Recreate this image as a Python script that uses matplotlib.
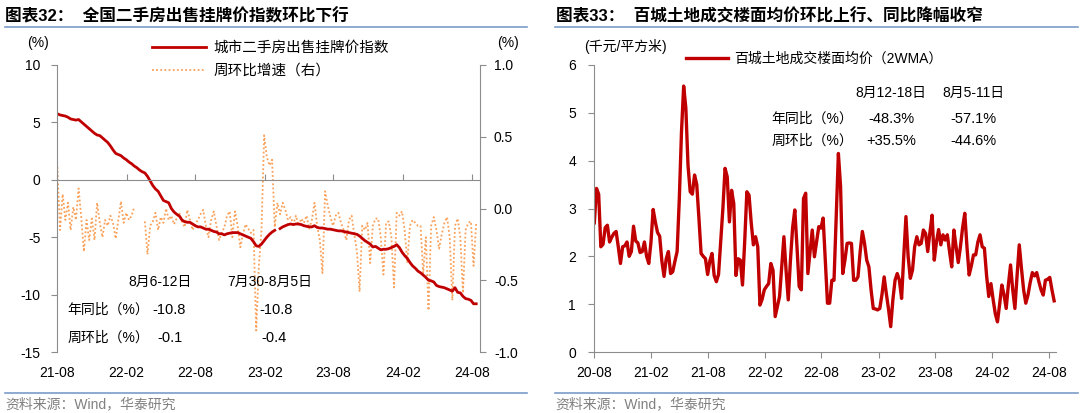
import numpy as np
import pandas as pd
import matplotlib
matplotlib.use("Agg")
import matplotlib.pyplot as plt
import matplotlib.dates as mdates
from matplotlib.lines import Line2D

plt.rcParams['font.family'] = ['Liberation Sans', 'Noto Sans CJK SC']
plt.rcParams['axes.unicode_minus'] = False

nan = np.nan

# chart 32: weekly, 2021-08-02 .. 2024-08-12
idx_dates = pd.date_range('2021-08-02', periods=159, freq='7D')
idx_yoy = [
    5.75, 5.65, 5.6, 5.55, 5.45, 5.3, 5.25, 5.2, 5.25, 5.05,
    4.85, 4.65, 4.45, 4.25, 4.05, 3.9, 3.85, 3.65, 3.45, 3.25,
    2.95, 2.6, 2.3, 2.2, 2.1, 1.9, 1.75, 1.55, 1.4, 1.2,
    1.05, 0.85, 0.7, 0.6, 0.3, -0.1, -0.5, -0.8, -1.0, -1.4,
    -1.8, -1.9, -2.0, -2.5, -2.8, -3.0, -3.15, -3.5, -3.65, -3.7,
    -3.7, -3.85, -4.0, -4.1, -4.1, -4.2, -4.3, -4.3, -4.4, -4.5,
    -4.55, -4.7, -4.7, -4.8, -4.7, -4.65, -4.6, -4.6, -4.6, -4.7,
    -4.8, -4.9, -5.0, -5.1, -5.4, -5.75, -5.8, -5.6, -5.3, -5.0,
    -4.75, -4.55, -4.4, nan, -4.25, -4.1, -4.0, -3.9, -3.85, -3.9,
    -3.85, -3.85, -3.9, -4.0, -4.05, -4.1, -4.1, -4.0, -4.15, -4.2,
    -4.2, -4.25, -4.3, -4.3, -4.35, -4.4, -4.45, -4.45, -4.5, -4.55,
    -4.6, -4.65, -4.7, -4.75, -4.9, -5.1, -5.3, -5.45, -5.6, -5.85,
    -5.8, -5.95, -6.1, -6.05, -6.05, -6.0, -5.9, -5.8, -5.65, -5.9,
    -6.3, -6.6, -6.85, -7.2, -7.5, -7.7, -7.95, -8.1, -8.3, -8.5,
    -8.75, -8.8, -8.9, -9.2, -9.3, -9.35, -9.4, -9.5, -9.6, -9.7,
    -9.4, -9.8, -9.85, -10.15, -10.35, -10.4, -10.5, -10.8, -10.8,
]
idx_wow = [
    0.29, -0.15, 0.10, -0.08, 0.04, -0.15, 0.01, -0.08, 0.14, -0.06,
    -0.30, -0.08, -0.22, -0.07, -0.22, 0.04, -0.10, -0.20, -0.08, -0.12,
    -0.05, -0.10, -0.21, -0.08, 0.05, -0.10, -0.03, -0.08, -0.05, 0.01,
    nan, nan, nan, -0.09, -0.32, -0.12, -0.09, -0.03, -0.15, -0.06,
    -0.10, 0.00, -0.08, -0.05, -0.11, -0.07, -0.03, -0.09, -0.13, -0.01,
    -0.08, -0.15, -0.11, -0.08, -0.04, -0.01, -0.12, -0.20, -0.08, -0.02,
    -0.12, -0.22, -0.17, -0.13, -0.05, -0.02, -0.20, -0.02, -0.12, -0.27,
    -0.18, -0.11, -0.14, -0.17, -0.15, -0.85, -0.40, -0.15, 0.51, 0.36,
    0.30, 0.34, -0.13, 0.04, -0.04, 0.04, -0.01, -0.08, -0.06, -0.11,
    -0.05, -0.12, -0.07, -0.10, -0.05, -0.14, -0.08, 0.04, -0.12, -0.22,
    -0.45, 0.12, 0.02, -0.06, -0.12, -0.05, -0.03, -0.10, -0.15, -0.22,
    -0.08, -0.05, -0.18, -0.30, -0.58, -0.12, -0.15, -0.10, -0.38, -0.12,
    -0.07, -0.07, -0.20, -0.46, -0.10, -0.09, -0.20, -0.55, -0.03, -0.05,
    -0.02, -0.15, -0.38, -0.12, -0.08, -0.10, -0.12, -0.12, -0.45, -0.20,
    -0.71, -0.12, -0.06, -0.15, -0.28, -0.18, -0.10, -0.06, -0.20, -0.64,
    -0.12, -0.07, -0.20, -0.59, -0.15, -0.10, -0.09, -0.40, -0.10,
]

# chart 33: weekly, 2020-08-02 .. 2024-08-18
land_dates = pd.date_range('2020-08-02', periods=212, freq='7D')
land_price = [
    2.7, 3.42, 3.3, 2.2, 2.25, 2.6, 2.65, 2.3, 2.4, 2.48,
    2.52, 2.2, 1.85, 2.2, 2.22, 2.3, 2.0, 2.1, 2.63, 2.32,
    2.28, 2.08, 2.1, 2.3, 2.0, 1.85, 2.3, 2.98, 2.72, 2.5,
    2.42, 1.9, 1.58, 1.95, 2.1, 1.64, 1.68, 1.9, 2.1, 3.2,
    4.6, 5.56, 5.1, 3.9, 3.35, 3.3, 3.7, 3.5, 2.8, 2.06,
    2.0, 1.95, 1.62, 1.9, 2.06, 1.6, 1.47, 1.62, 2.3, 3.0,
    3.84, 3.66, 2.72, 3.38, 3.1, 1.6, 1.95, 1.92, 1.4, 2.3,
    3.35, 3.28, 2.7, 2.24, 2.41, 2.2, 0.98, 1.1, 1.3, 1.37,
    1.43, 1.85, 1.71, 0.74, 0.95, 1.16, 1.8, 2.41, 1.7, 1.09,
    1.92, 2.6, 2.97, 2.2, 1.37, 1.3, 3.21, 3.32, 1.64, 2.1,
    2.55, 1.99, 2.3, 2.62, 2.59, 2.8, 1.9, 1.02, 1.02, 1.5,
    1.5, 2.8, 4.15, 3.46, 1.64, 1.92, 2.27, 2.28, 2.27, 1.5,
    1.5, 1.57, 2.1, 2.52, 2.27, 1.92, 1.78, 1.3, 0.91, 0.9,
    0.88, 0.91, 1.2, 1.57, 1.22, 0.9, 0.53, 1.09, 1.5, 1.64,
    1.5, 1.12, 2.0, 2.83, 2.0, 1.54, 1.71, 2.2, 2.41, 2.24,
    2.27, 2.55, 2.48, 2.1, 2.5, 2.86, 1.92, 2.3, 2.56, 2.24,
    2.45, 2.34, 2.45, 2.1, 1.78, 2.55, 2.2, 1.87, 2.2, 2.6,
    2.9, 2.2, 1.61, 1.8, 2.03, 2.03, 2.3, 2.45, 2.2, 2.17,
    1.6, 1.16, 1.43, 1.1, 0.8, 0.63, 1.0, 1.4, 1.2, 0.91,
    1.4, 1.82, 1.3, 0.91, 1.6, 2.24, 1.75, 1.3, 1.02, 1.19,
    1.45, 1.66, 1.59, 1.66, 1.47, 1.3, 1.19, 1.5, 1.52, 1.56,
    1.3, 1.07,
]

RED = '#C00000'
ORANGE = '#F9A15A'
GRAY = '#8C8C8C'
BLUE = '#7C9CC8'

W, H = 1080, 413
fig = plt.figure(figsize=(W / 100, H / 100), dpi=100)


def fx(px):
    return px / W


def fy(py):
    return 1 - py / H


# ---------- titles, separator lines, source ----------
fig.text(fx(5), fy(16), '图表32：  全国二手房出售挂牌价指数环比下行', fontsize=12,
         fontweight='bold', va='center')
fig.text(fx(556), fy(16), '图表33：  百城土地成交楼面均价环比上行、同比降幅收窄', fontsize=12,
         fontweight='bold', va='center')
for x0, x1 in [(5, 527), (555, 1078)]:
    fig.add_artist(Line2D([fx(x0), fx(x1)], [fy(27), fy(27)], color=BLUE, lw=1.2))
    fig.add_artist(Line2D([fx(x0), fx(x1)], [fy(393), fy(393)], color=BLUE, lw=1.2))
    fig.text(fx(x0), fy(404), '资料来源：Wind，华泰研究', fontsize=10, color='#808080', va='center')

# ---------- left chart ----------
ax = fig.add_axes([fx(57), fy(352), fx(480) - fx(57), fy(65) - fy(352)])
ax2 = ax.twinx()
ax.set_zorder(ax2.get_zorder() + 1)
ax.patch.set_visible(False)

ax2.plot(idx_dates, idx_wow, color=ORANGE, lw=1.3, ls=(0, (1, 1.3)), label='周环比增速（右）')
ax.plot(idx_dates, idx_yoy, color=RED, lw=2, label='城市二手房出售挂牌价指数')

ax.set_ylim(-15, 10)
ax.set_yticks([-15, -10, -5, 0, 5, 10])
ax2.set_ylim(-1, 1)
ax2.set_yticks([-1, -0.5, 0, 0.5, 1])
ax2.set_yticklabels(['-1.0', '-0.5', '0.0', '0.5', '1.0'])
ax.set_xlim(pd.Timestamp('2021-08-01'), pd.Timestamp('2024-08-22'))

for s in ['top', 'right']:
    ax.spines[s].set_visible(False)
for s in ['top', 'left', 'bottom']:
    ax2.spines[s].set_visible(False)
ax.spines['left'].set_color(GRAY)
ax2.spines['right'].set_color(GRAY)
ax.spines['bottom'].set_position(('data', 0))
ax.spines['bottom'].set_color(GRAY)

loc = mdates.MonthLocator(bymonth=[2, 8])
ax.xaxis.set_major_locator(loc)
ax.tick_params(axis='x', direction='in', length=4, color=GRAY, labelbottom=False)
ax.tick_params(axis='y', direction='out', length=4, color=GRAY, pad=8, labelsize=10)
ax2.tick_params(axis='y', direction='out', length=4, color=GRAY, pad=6, labelsize=10)

sec = ax.secondary_xaxis('bottom')
sec.xaxis.set_major_locator(mdates.MonthLocator(bymonth=[2, 8]))
sec.xaxis.set_major_formatter(mdates.DateFormatter('%y-%m'))
sec.spines['bottom'].set_visible(False)
sec.tick_params(length=0, pad=10, labelsize=10)

h1, l1 = ax.get_legend_handles_labels()
h2, l2 = ax2.get_legend_handles_labels()
ax.legend(h1 + h2, l1 + l2, loc='upper left', bbox_to_anchor=(0.225, 1.085), frameon=False,
          fontsize=10.5, handlelength=3.7, handletextpad=0.5, labelspacing=0.65,
          borderpad=0, borderaxespad=0)

fig.text(fx(38), fy(43), '(%)', fontsize=10, ha='center', va='center')
fig.text(fx(508), fy(43), '(%)', fontsize=10, ha='center', va='center')

tf = ax.transAxes
ax.text(0.2435, 0.243, '8月6-12日', transform=tf, fontsize=10, ha='center', va='center')
ax.text(0.5035, 0.243, '7月30-8月5日', transform=tf, fontsize=10, ha='center', va='center')
ax.text(0.024, 0.146, '年同比（%）', transform=tf, fontsize=10, va='center')
ax.text(0.024, 0.049, '周环比（%）', transform=tf, fontsize=10, va='center')
ax.text(0.225, 0.146, '-10.8', transform=tf, fontsize=10.5, va='center')
ax.text(0.478, 0.146, '-10.8', transform=tf, fontsize=10.5, va='center')
ax.text(0.238, 0.049, '-0.1', transform=tf, fontsize=10.5, va='center')
ax.text(0.482, 0.049, '-0.4', transform=tf, fontsize=10.5, va='center')

# ---------- right chart ----------
bx = fig.add_axes([fx(594), fy(352), fx(1056) - fx(594), fy(65) - fy(352)])
bx.plot(land_dates, land_price, color=RED, lw=2.4, label='百城土地成交楼面均价（2WMA）')
bx.set_ylim(0, 6)
bx.set_yticks(range(0, 7))
bx.set_xlim(pd.Timestamp('2020-08-01'), pd.Timestamp('2024-08-24'))
bx.xaxis.set_major_locator(mdates.MonthLocator(bymonth=[2, 8]))
bx.xaxis.set_major_formatter(mdates.DateFormatter('%y-%m'))
for s in ['top', 'right']:
    bx.spines[s].set_visible(False)
bx.spines['left'].set_color(GRAY)
bx.spines['bottom'].set_color(GRAY)
bx.tick_params(axis='x', direction='out', length=4, color=GRAY, pad=6, labelsize=10)
bx.tick_params(axis='y', direction='out', length=4, color=GRAY, pad=9, labelsize=10)
bx.legend(loc='upper left', bbox_to_anchor=(0.2, 1.045), frameon=False, fontsize=10,
          handlelength=3.0, handletextpad=0.45, borderpad=0, borderaxespad=0)

fig.text(fx(625), fy(47), '(千元/平方米)', fontsize=10, ha='center', va='center')

tb = bx.transAxes
bx.text(0.642, 0.902, '8月12-18日', transform=tb, fontsize=10, ha='center', va='center')
bx.text(0.822, 0.902, '8月5-11日', transform=tb, fontsize=10, ha='center', va='center')
bx.text(0.384, 0.812, '年同比（%）', transform=tb, fontsize=10, va='center')
bx.text(0.384, 0.735, '周环比（%）', transform=tb, fontsize=10, va='center')
bx.text(0.644, 0.812, '-48.3%', transform=tb, fontsize=10.5, ha='center', va='center')
bx.text(0.822, 0.812, '-57.1%', transform=tb, fontsize=10.5, ha='center', va='center')
bx.text(0.644, 0.735, '+35.5%', transform=tb, fontsize=10.5, ha='center', va='center')
bx.text(0.822, 0.735, '-44.6%', transform=tb, fontsize=10.5, ha='center', va='center')

fig.savefig('out.png', dpi=100)
